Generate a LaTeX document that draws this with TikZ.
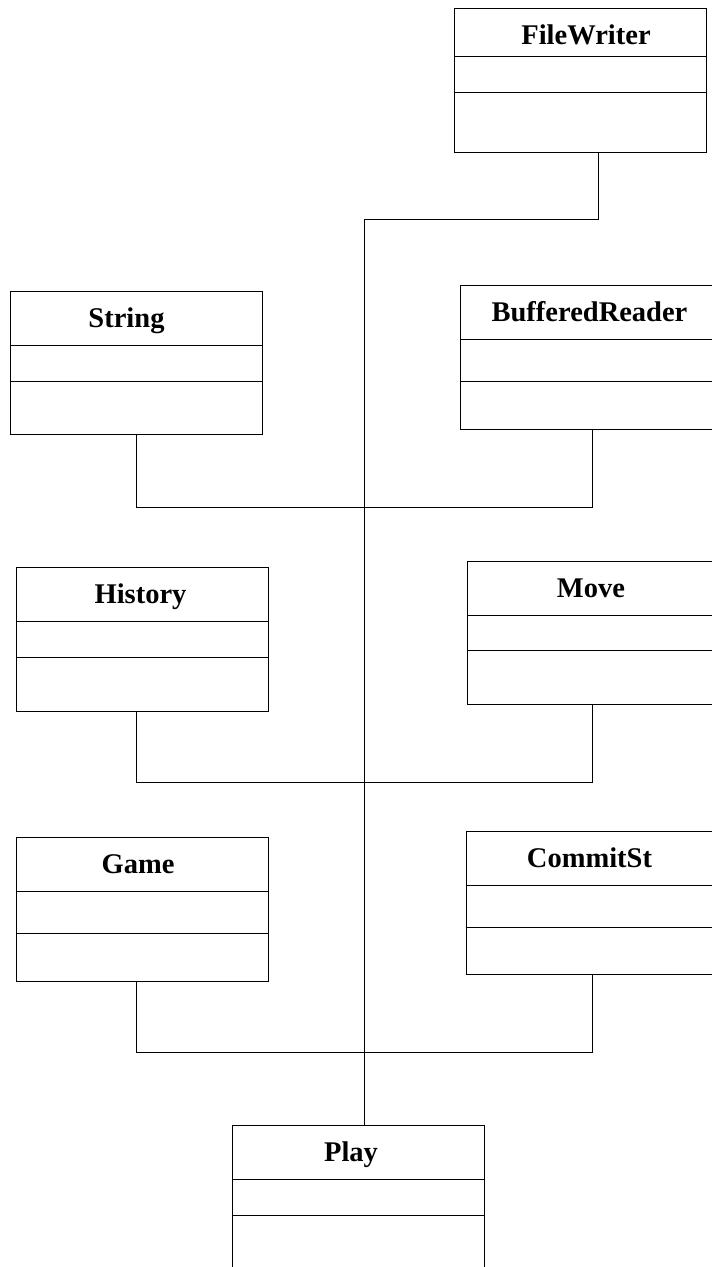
\documentclass[tikz,border=0pt]{standalone}
\usepackage{fontspec}
\setmainfont{Liberation Serif}
\begin{document}
\begin{tikzpicture}[x=1pt,y=-1pt,
  classbox/.style={draw=black, line width=1pt, anchor=north west, inner sep=0pt, outer sep=0pt},
  divider/.style={draw=black, line width=1pt},
  classname/.style={anchor=base, inner sep=0pt, font=\fontsize{28.5}{30}\selectfont\bfseries},
  link/.style={draw=black, line width=1pt}]
\useasboundingbox (0,0) rectangle (712,1267);
\clip (0,0) rectangle (712,1267);

% \umlclass{name}{left}{right}{top}{div1}{div2}{bottom}{text x}{title}
\newcommand{\umlclass}[9]{%
  \pgfmathsetmacro{\bw}{#3-#2}%
  \pgfmathsetmacro{\bh}{#7-#4}%
  \node[classbox, minimum width=\bw pt, minimum height=\bh pt] (#1) at (#2,#4) {};
  \draw[divider] (#2,#5) -- (#3,#5);
  \draw[divider] (#2,#6) -- (#3,#6);
  \node[classname] (#1-name) at (#8,#4+36) {#9};
}

\umlclass{fw}{454}{706}{8}{56.5}{92.5}{152.5}{586}{FileWriter}
\umlclass{str}{10.5}{262}{291}{345}{381}{434.5}{126.5}{String}
\umlclass{br}{460.5}{712.5}{285}{339}{381}{429}{589.5}{BufferedReader}
\umlclass{hist}{16.5}{268.5}{567}{621}{657}{711}{140.5}{History}
\umlclass{move}{467}{719}{561.5}{615}{650.5}{704.5}{591}{Move}
\umlclass{game}{16.5}{268.5}{837}{891}{933}{981}{138}{Game}
\umlclass{commit}{466}{718}{831}{885}{927}{974.5}{589.5}{CommitSt}
\umlclass{play}{232.5}{484.5}{1125}{1179.5}{1215.5}{1300}{351}{Play}

% junction points on the central spine
\coordinate (j0) at (364,219);
\coordinate (j1) at (364,507.5);
\coordinate (j2) at (364,782.5);
\coordinate (j3) at (364,1052.5);

% spine from FileWriter down to Play
\draw[link] ([xshift=144pt]fw.south west) |- (j0) -- (j0 |- play.north);

% paired branches joining the spine
\draw[link] ([xshift=125.5pt]str.south west) |- (j1) -| ([xshift=132pt]br.south west);
\draw[link] ([xshift=119.5pt]hist.south west) |- (j2) -| ([xshift=125.5pt]move.south west);
\draw[link] ([xshift=119.5pt]game.south west) |- (j3) -| ([xshift=126.5pt]commit.south west);
\end{tikzpicture}
\end{document}
